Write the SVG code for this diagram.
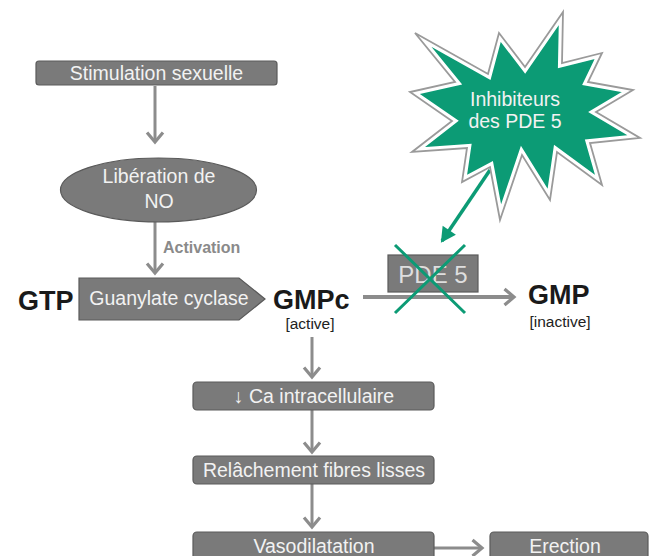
<svg xmlns="http://www.w3.org/2000/svg" width="651" height="556" viewBox="0 0 651 556">
<style>
.box{fill:#7a7a7a;stroke:#5a5a5a;stroke-width:1.2}
.bt{font-family:"Liberation Sans",Arial,sans-serif;font-size:19.5px;fill:#f2f2f2;text-anchor:middle}
.big{font-family:"Liberation Sans",Arial,sans-serif;font-size:27px;font-weight:bold;fill:#1a1a1a}
.sub{font-family:"Liberation Sans",Arial,sans-serif;font-size:15.5px;fill:#222;text-anchor:middle}
.arr{fill:none;stroke:#8c8c8c;stroke-width:3;marker-end:url(#chev)}
</style>
<defs>
<marker id="chev" viewBox="0 0 12 18" refX="10.5" refY="9" markerWidth="12" markerHeight="18" orient="auto" markerUnits="userSpaceOnUse" overflow="visible">
<path d="M1,1 L10.5,9 L1,17" fill="none" stroke="#8c8c8c" stroke-width="3.2"/>
</marker>
<marker id="garr" viewBox="0 0 16 16" refX="13" refY="8" markerWidth="16" markerHeight="16" orient="auto" markerUnits="userSpaceOnUse" overflow="visible">
<path d="M0,0 L15,8 L0,16 Z" fill="#0c9b75"/>
</marker>
<polygon id="starShape" points="415,33 488,74 499,33 525,67 563,12 562,63 602,53 588,82 633,90 596,112 640,138 590,143 602,185 557,152 550,200 522,155 500,220 490,167 462,182 467,148 412,152 452,121 410,92 455,82"/>
<clipPath id="starClip"><use href="#starShape"/></clipPath>
</defs>

<g id="connectors">
<path class="arr" d="M155,86 L155,142"/>
<path class="arr" d="M155,222 L155,273"/>
<path class="arr" d="M312,337 L312,377"/>
<path class="arr" d="M312,410 L312,452"/>
<path class="arr" d="M312,484 L312,527"/>
<path class="arr" d="M434,548 L482,548"/>
<path class="arr" d="M363,297 L514,297" style="stroke-width:4"/>
<path d="M490,170 L442,241" fill="none" stroke="#0c9b75" stroke-width="3.5" marker-end="url(#garr)"/>
<text x="163" y="253" font-family="Liberation Sans, Arial, sans-serif" font-size="16" font-weight="bold" fill="#8a8a8a">Activation</text>
</g>

<g id="stimulation">
<rect class="box" x="36" y="61" width="241" height="24" rx="3"/>
<text class="bt" x="156.5" y="80">Stimulation sexuelle</text>
</g>

<g id="no">
<ellipse class="box" cx="158.5" cy="190" rx="98" ry="32"/>
<text class="bt" x="159" y="183">Libération de</text>
<text class="bt" x="159" y="208">NO</text>
</g>

<g id="gtp"><text class="big" x="18" y="310">GTP</text></g>

<g id="guanylate">
<polygon class="box" points="79,278 239,278 265,299 239,320 79,320"/>
<text class="bt" x="169" y="305">Guanylate cyclase</text>
</g>

<g id="gmpc">
<text class="big" x="273" y="309">GMPc</text>
<text class="sub" x="310" y="329">[active]</text>
</g>

<g id="pde5">
<rect x="388" y="255" width="90" height="37" fill="#7a7a7a" stroke="#5a5a5a" stroke-width="1.2"/>
<text x="433" y="283" font-family="Liberation Sans, Arial, sans-serif" font-size="24" fill="#dedede" text-anchor="middle">PDE 5</text>
<path d="M395,245 L465,313 M465,245 L395,313" stroke="#0c9b75" stroke-width="3" fill="none"/>
</g>

<g id="gmp">
<text class="big" x="528" y="304">GMP</text>
<text class="sub" x="560" y="327">[inactive]</text>
</g>

<g id="inhibiteurs">
<use href="#starShape" fill="#0c9b75"/>
<use href="#starShape" fill="none" stroke="#ffffff" stroke-width="8" clip-path="url(#starClip)"/>
<use href="#starShape" fill="none" stroke="#9a9a9a" stroke-width="1.8"/>
<text class="bt" x="515" y="106">Inhibiteurs</text>
<text class="bt" x="515" y="128">des PDE 5</text>
</g>

<g id="ca">
<rect class="box" x="193" y="382" width="241" height="28" rx="4"/>
<text class="bt" x="314" y="403">↓ Ca intracellulaire</text>
</g>

<g id="relachement">
<rect class="box" x="193" y="456" width="241" height="28" rx="4"/>
<text class="bt" x="314" y="477">Relâchement fibres lisses</text>
</g>

<g id="vasodilatation">
<rect class="box" x="193" y="532" width="241" height="30" rx="4"/>
<text class="bt" x="314" y="553">Vasodilatation</text>
</g>

<g id="erection">
<rect class="box" x="490" y="532" width="158" height="30" rx="4"/>
<text class="bt" x="565" y="553">Erection</text>
</g>
</svg>
